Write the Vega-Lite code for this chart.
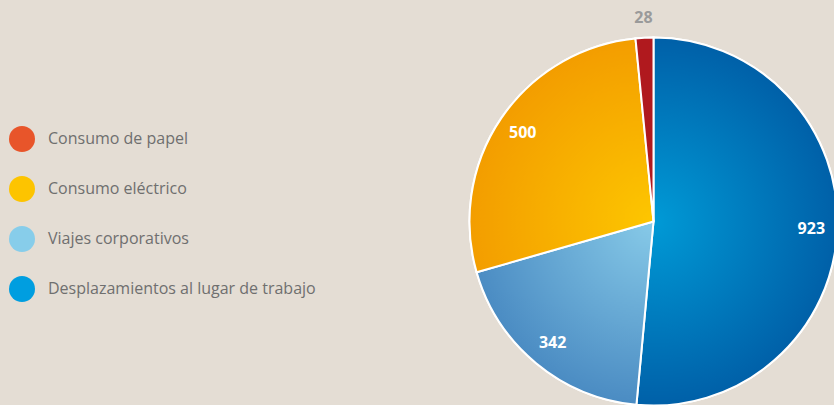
{
  "$schema": "https://vega.github.io/schema/vega-lite/v6.json",
  "width": 361,
  "height": 367,
  "autosize": {"type": "none"},
  "padding": {"left": 473, "top": 38, "right": 0, "bottom": 0},
  "background": "#e4ddd4",
  "config": {"view": {"stroke": null}, "font": "Open Sans"},
  "data": {
    "values": [
      {"categoria": "Desplazamientos al lugar de trabajo", "valor": 923},
      {"categoria": "Viajes corporativos", "valor": 342},
      {"categoria": "Consumo eléctrico", "valor": 500},
      {"categoria": "Consumo de papel", "valor": 28}
    ]
  },
  "transform": [{"window": [{"op": "row_number", "as": "orden"}]}],
  "encoding": {
    "theta": {"field": "valor", "type": "quantitative", "stack": true},
    "order": {"field": "orden", "type": "quantitative"}
  },
  "layer": [
    {
      "mark": {"type": "arc", "radius": 184, "stroke": "white", "strokeWidth": 2},
      "encoding": {
        "color": {
          "field": "categoria",
          "type": "nominal",
          "scale": {
            "domain": ["Consumo de papel", "Consumo eléctrico", "Viajes corporativos", "Desplazamientos al lugar de trabajo"],
            "range": ["#e8552a", "#fdc400", "#87cdea", "#009ee0"]
          },
          "legend": {
            "title": null,
            "orient": "none",
            "legendX": -464,
            "legendY": 88,
            "padding": 0,
            "symbolType": "circle",
            "symbolSize": 676,
            "symbolStrokeWidth": 0,
            "symbolOpacity": 1,
            "labelFont": "Open Sans",
            "labelFontSize": 16,
            "labelColor": "#6f6f6f",
            "labelOffset": 13,
            "labelLimit": 0,
            "rowPadding": 24
          }
        }
      }
    },
    {
      "mark": {"type": "arc", "radius": 184, "stroke": "white", "strokeWidth": 2},
      "encoding": {
        "fill": {
          "condition": [
            {
              "test": "datum.categoria === 'Desplazamientos al lugar de trabajo'",
              "value": {"gradient": "radial", "x1": 0.273, "y1": 0.5, "r1": 0, "x2": 0.273, "y2": 0.5, "r2": 0.5,
                "stops": [{"offset": 0, "color": "#009ad6"}, {"offset": 1, "color": "#0060a8"}]}
            },
            {
              "test": "datum.categoria === 'Viajes corporativos'",
              "value": {"gradient": "radial", "x1": 0.98, "y1": 0, "r1": 0, "x2": 0.98, "y2": 0, "r2": 1.0,
                "stops": [{"offset": 0, "color": "#87cae8"}, {"offset": 1, "color": "#4b8cc3"}]}
            },
            {
              "test": "datum.categoria === 'Consumo eléctrico'",
              "value": {"gradient": "radial", "x1": 0.894, "y1": 0.783, "r1": 0, "x2": 0.894, "y2": 0.783, "r2": 0.79,
                "stops": [{"offset": 0, "color": "#fdc600"}, {"offset": 1, "color": "#f39d00"}]}
            }
          ],
          "value": "#b0191e"
        }
      }
    },
    {
      "mark": {"type": "text", "fontWeight": "bold", "fontSize": 16, "font": "Open Sans", "radius": 158, "color": "#ffffff"},
      "encoding": {
        "text": {"condition": {"test": "datum.valor < 50", "value": ""}, "field": "valor", "type": "quantitative"}
      }
    },
    {
      "mark": {"type": "text", "fontWeight": "bold", "fontSize": 16, "font": "Open Sans", "radius": 204, "color": "#9a9a9a"},
      "encoding": {
        "text": {"condition": {"test": "datum.valor < 50", "field": "valor", "type": "quantitative"}, "value": ""}
      }
    }
  ]
}
